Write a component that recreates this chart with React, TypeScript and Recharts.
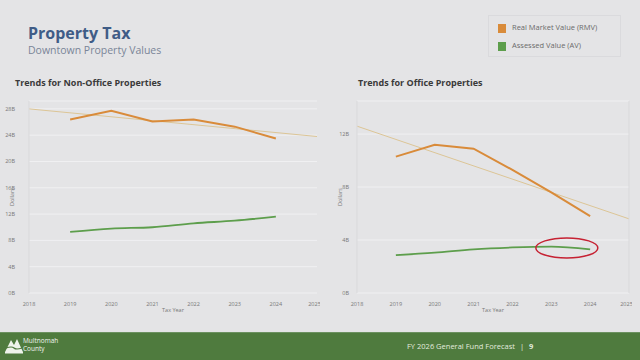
import { LineChart, Line, XAxis, YAxis, CartesianGrid, ReferenceDot, ReferenceLine } from "recharts";

const years = [2018, 2019, 2020, 2021, 2022, 2023, 2024, 2025];

// values in billions of dollars
const nonOfficeRmv = [null, 26.4, 27.7, 26.1, 26.4, 25.3, 23.5, null];
const nonOfficeAv = [null, 9.3, 9.8, 10.0, 10.6, 11.0, 11.6, null];
const nonOfficeTrend = [28.0, null, null, null, null, null, null, 23.8];

const officeRmv = [null, 10.3, 11.2, 10.9, 9.3, 7.6, 5.8, null];
const officeAv = [null, 2.86, 3.05, 3.3, 3.44, 3.5, 3.3, null];
const officeTrend = [12.6, null, null, null, null, null, null, 5.6];

const nonOfficeTicks = [0, 4, 8, 12, 16, 20, 24, 28];
const officeTicks = [0, 4, 8, 12];

const ORANGE = "#d98b3a";
const GREEN = "#5d9e4c";
const TREND = "#dcc596";
const FONT = "'Open Sans', sans-serif";

function buildRows(rmv: (number | null)[], av: (number | null)[], trend: (number | null)[]) {
  return years.map((year, i) => ({ year, rmv: rmv[i], av: av[i], trend: trend[i] }));
}

const tickStyle = { fontSize: 5.5, fill: "#777", fontFamily: FONT };

function Ellipse(props: any) {
  const { cx, cy } = props;
  return <ellipse cx={cx} cy={cy} rx={31} ry={10} fill="none" stroke="#c62233" strokeWidth={1.5} />;
}

interface PanelProps {
  rows: any[];
  width: number;
  yAxisWidth: number;
  domainMax: number;
  ticks: number[];
  tickGap: number;
  labelShift: number;
  children?: any;
}

function Panel({ rows, width, yAxisWidth, domainMax, ticks, tickGap, labelShift, children }: PanelProps) {
  return (
    <LineChart width={width} height={225} data={rows} margin={{ top: 11, right: 3, bottom: 2, left: 0 }}>
      <CartesianGrid vertical={false} stroke="#f0f0f2" strokeWidth={1} />
      <XAxis
        dataKey="year"
        type="number"
        domain={[2018, 2025]}
        ticks={years}
        height={20}
        tickLine={false}
        axisLine={false}
        tickMargin={3}
        tick={tickStyle}
        label={{ value: "Tax Year", position: "insideBottom", offset: 1, style: { fontSize: 5.5, fill: "#777", fontFamily: FONT } }}
      />
      <YAxis
        width={yAxisWidth}
        domain={[0, domainMax]}
        ticks={ticks}
        tickFormatter={(v: number) => `${v}B`}
        tickLine={false}
        axisLine={{ stroke: "#d9d9db" }}
        tickMargin={tickGap}
        tick={tickStyle}
        label={{ value: "Dollars", angle: -90, position: "center", dx: labelShift, style: { fontSize: 5.5, fill: "#777", fontFamily: FONT, textAnchor: "middle" } }}
      />
      <Line dataKey="trend" stroke={TREND} strokeWidth={1} dot={false} connectNulls isAnimationActive={false} />
      <Line dataKey="rmv" stroke={ORANGE} strokeWidth={2} dot={false} type="linear" isAnimationActive={false} />
      <Line dataKey="av" stroke={GREEN} strokeWidth={1.8} dot={false} type="monotone" isAnimationActive={false} />
      {children}
    </LineChart>
  );
}

export default function App() {
  const nonOfficeRows = buildRows(nonOfficeRmv, nonOfficeAv, nonOfficeTrend);
  const officeRows = buildRows(officeRmv, officeAv, officeTrend);

  return (
    <div style={{ position: "absolute", left: 0, top: 0, width: 640, height: 360, background: "#e4e4e6", fontFamily: FONT, overflow: "hidden" }}>
      <div style={{ position: "absolute", left: 28, top: 24, fontSize: 16, lineHeight: "18px", fontWeight: 700, color: "#3f5c87" }}>Property Tax</div>
      <div style={{ position: "absolute", left: 28, top: 44, fontSize: 10.5, lineHeight: "13px", color: "#7a8598" }}>Downtown Property Values</div>

      <div style={{ position: "absolute", left: 488, top: 15, width: 133, height: 42, border: "1px solid #dadadd", boxSizing: "border-box" }}>
        <div style={{ position: "absolute", left: 9, top: 8, width: 8, height: 9, background: ORANGE }} />
        <div style={{ position: "absolute", left: 23, top: 6, fontSize: 7.5, color: "#6b6b6b" }}>Real Market Value (RMV)</div>
        <div style={{ position: "absolute", left: 9, top: 26, width: 8, height: 9, background: GREEN }} />
        <div style={{ position: "absolute", left: 23, top: 24, fontSize: 7.5, color: "#6b6b6b" }}>Assessed Value (AV)</div>
      </div>

      <div style={{ position: "absolute", left: 15, top: 76, fontSize: 9, fontWeight: 700, color: "#3a3a3a" }}>Trends for Non-Office Properties</div>
      <div style={{ position: "absolute", left: 358, top: 76, fontSize: 9, fontWeight: 700, color: "#3a3a3a" }}>Trends for Office Properties</div>

      <div style={{ position: "absolute", left: 0, top: 90 }}>
        <Panel rows={nonOfficeRows} width={320} yAxisWidth={29} domainMax={29.2} ticks={nonOfficeTicks} tickGap={8} labelShift={-2} />
      </div>

      <div style={{ position: "absolute", left: 330, top: 90 }}>
        <Panel rows={officeRows} width={302} yAxisWidth={27} domainMax={14.5} ticks={officeTicks} tickGap={2} labelShift={-3.5}>
          <ReferenceLine x={2025} stroke="#d9d9db" />
          <ReferenceDot x={2023.4} y={3.4} shape={Ellipse} />
        </Panel>
      </div>

      <div style={{ position: "absolute", left: 0, top: 332, width: 640, height: 28, background: "#4f7b3e", borderTop: "1px solid #6c9160", boxSizing: "border-box" }}>
        <svg width={20} height={18} style={{ position: "absolute", left: 4, top: 4 }}>
          <polygon points="1,15 7,3 10,8 13,2 19,15" fill="#eef3ea" />
          <path d="M2,11 Q8,9 10,11 T18,11" stroke="#4f7b3e" strokeWidth={1.2} fill="none" />
          <rect x={1} y={15} width={18} height={1.5} fill="#eef3ea" />
        </svg>
        <div style={{ position: "absolute", left: 23, top: 4, fontSize: 6.5, lineHeight: "8px", color: "#f0f4ee" }}>
          Multnomah
          <br />
          County
        </div>
        <div style={{ position: "absolute", left: 407, top: 8, fontSize: 7.5, color: "#e3ebdf" }}>
          FY 2026 General Fund Forecast <span style={{ margin: "0 3px" }}>|</span> <b>9</b>
        </div>
      </div>
    </div>
  );
}
